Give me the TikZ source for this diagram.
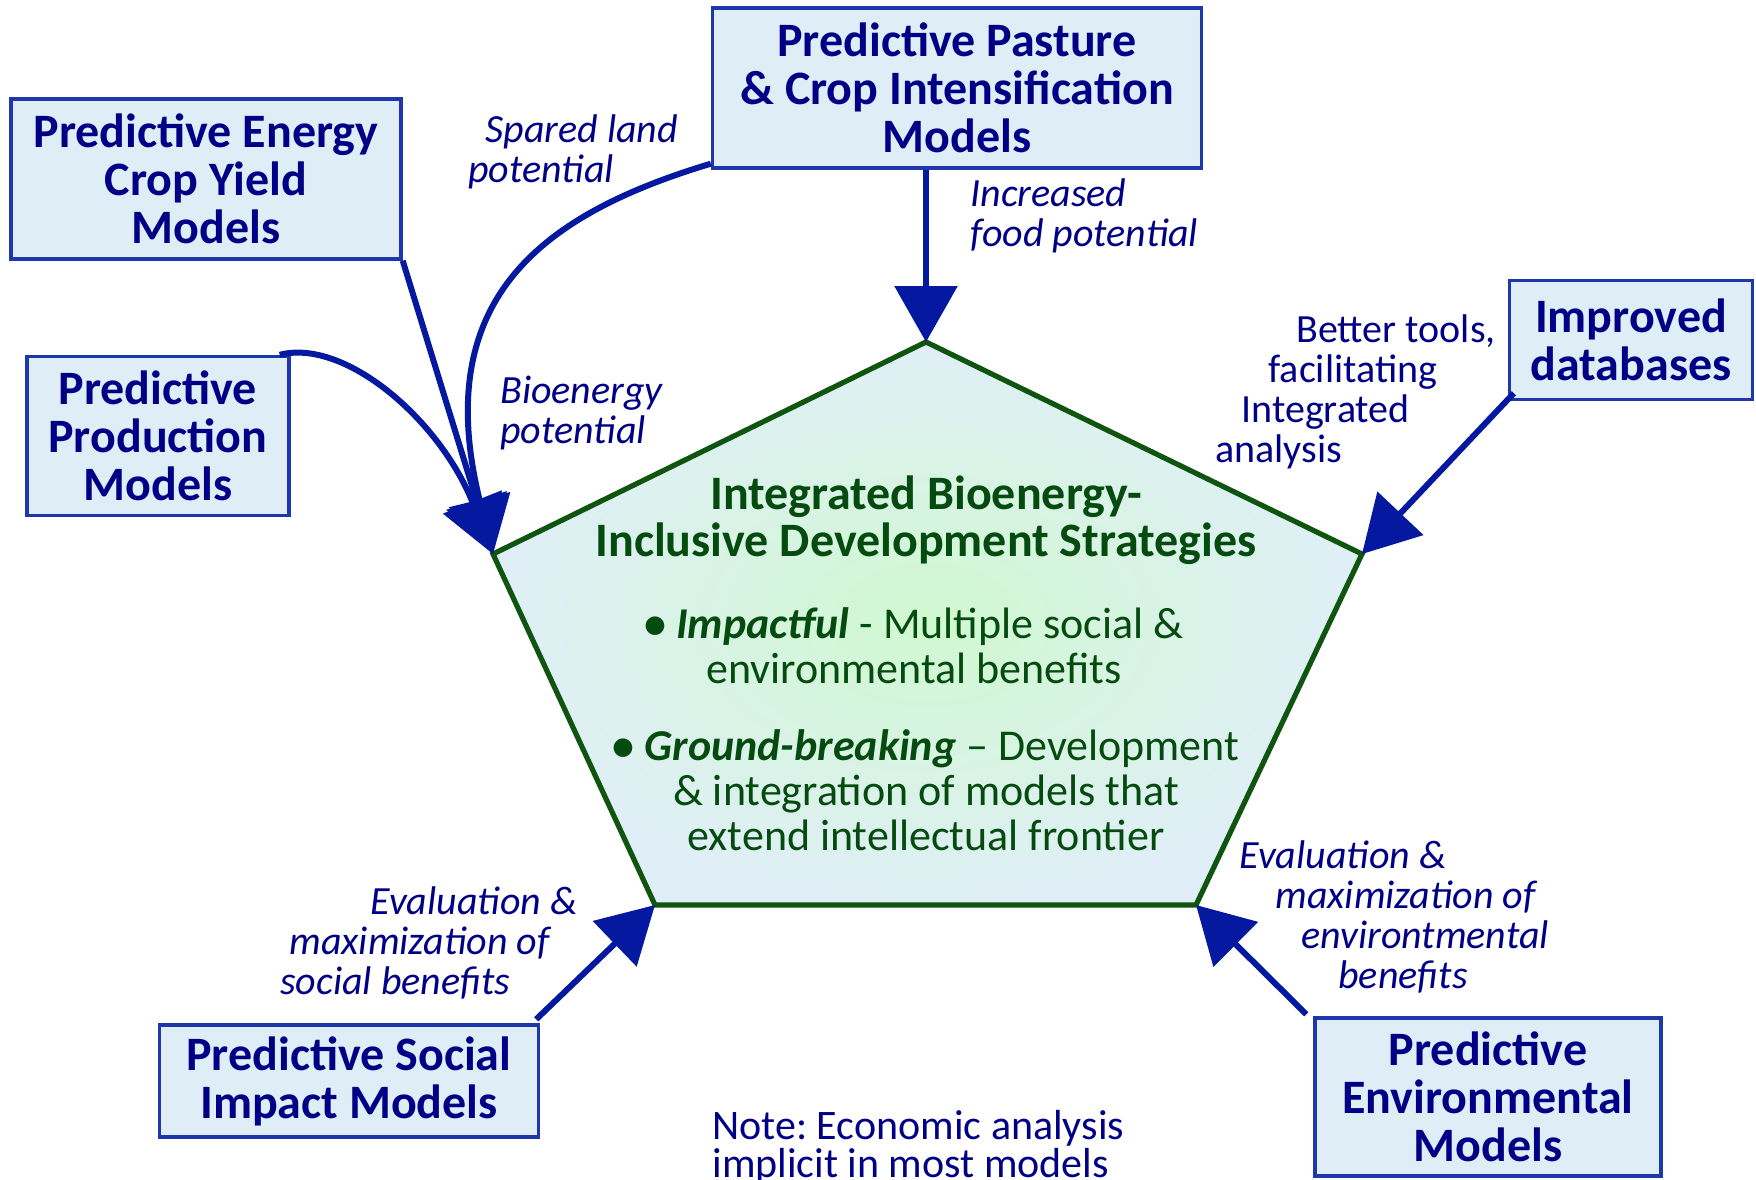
\documentclass[tikz,border=0pt]{standalone}
\usepackage{fontspec}
\setmainfont{Carlito}
\usetikzlibrary{arrows.meta,calc}
\frenchspacing
\definecolor{navytxt}{RGB}{0,0,135}
\definecolor{boxfill}{RGB}{223,238,246}
\definecolor{boxline}{RGB}{30,55,170}
\definecolor{arrowblue}{RGB}{5,25,160}
\definecolor{pentline}{RGB}{15,85,15}
\definecolor{titlegreen}{RGB}{5,75,15}
\definecolor{pentin}{RGB}{208,248,208}
\definecolor{pentout}{RGB}{224,239,247}
\begin{document}
\begin{tikzpicture}[x=0.5pt,y=-0.5pt,
 modelbox/.style={draw=boxline, line width=1.7pt, fill=boxfill, text=navytxt,
   font=\fontsize{24}{24}\selectfont\bfseries, align=center, inner sep=0pt},
 lbl/.style={text=navytxt, font=\fontsize{20}{20}\selectfont\itshape, align=left, inner sep=0pt},
 plainlbl/.style={text=navytxt, font=\fontsize{20}{20}\selectfont, align=left, inner sep=0pt},
 ptitle/.style={text=titlegreen, font=\fontsize{24}{23.5}\selectfont\bfseries, align=center, inner sep=0pt},
 pbody/.style={text=titlegreen, font=\fontsize{22}{22.5}\selectfont, align=center, inner sep=0pt},
 link/.style={draw=arrowblue, line width=3pt, -{Triangle[length=28pt,width=31pt]}},
]
\useasboundingbox (0,0) rectangle (1756,1179);

% pentagon
\coordinate (pT) at (926,342);
\coordinate (pR) at (1362,554);
\coordinate (pBR) at (1196,905);
\coordinate (pBL) at (655,905);
\coordinate (pL) at (493,554);
\shadedraw[inner color=pentin, outer color=pentout, draw=pentline, line width=2.6pt]
  (pT) -- (pR) -- (pBR) -- (pBL) -- (pL) -- cycle;

\node[ptitle] (title) at (926,520) {Integrated Bioenergy-\\Inclusive Development Strategies};
\node[pbody] (b1) at (914,646) {\textbf{\textbullet}\ \textbf{\textit{Impactful}} - Multiple social \&\\environmental benefits};
\node[pbody] (b2) at (926,790) {\textbf{\textbullet}\ \textbf{\textit{Ground-breaking}} – Development\\\& integration of models that\\extend intellectual frontier};

% boxes
\node[modelbox, minimum width=244.5pt, minimum height=80pt] (pasture) at (957,88)
  {Predictive Pasture\\\& Crop Intensification\\Models};
\node[modelbox, minimum width=195pt, minimum height=80pt] (energy) at (206,179)
  {Predictive Energy\\Crop Yield\\Models};
\node[modelbox, minimum width=131pt, minimum height=79.5pt] (prod) at (158,436)
  {Predictive\\Production\\Models};
\node[modelbox, minimum width=121.5pt, minimum height=59.5pt] (db) at (1631,340)
  {Improved\\databases};
\node[modelbox, minimum width=189.5pt, minimum height=56pt] (social) at (349,1081)
  {Predictive Social\\Impact Models};
\node[modelbox, minimum width=173pt, minimum height=79pt] (env) at (1488,1097)
  {Predictive\\Environmental\\Models};

% connectors
\coordinate (spStart) at ($(pasture.south west)+(0,-6)$);
\coordinate (prStart) at ($(prod.north east)+(-11,0)$);
\coordinate (dbStart) at ($(db.south west)+(6,-8)$);
\coordinate (soStart) at ($(social.north east)+(-4,-4)$);
\coordinate (enStart) at ($(env.north west)+(-7,-2)$);
\draw[link] (pasture.south -| pT) -- (pT);
\draw[link] (spStart) .. controls (540,215) and (430,300) .. (pL);
\draw[link] (energy.south east) -- (pL);
\draw[link] (prStart) .. controls (345,338) and (440,420) .. (pL);
\draw[link] (dbStart) -- (pR);
\draw[link] (soStart) -- (pBL);
\draw[link] (enStart) -- (pBR);

% labels
\node[lbl, anchor=west] (lspared) at (468,152) {\hspace*{8.5pt}Spared land\\potential};
\node[lbl, anchor=west] (lfood) at (970,216) {Increased\\food potential};
\node[lbl, anchor=west] (lbio) at (500,413) {Bioenergy\\potential};
\node[plainlbl, anchor=west] (ltools) at (1215,392)
  {\hspace*{40.5pt}Better tools,\\\hspace*{26.5pt}facilitating\\\hspace*{13pt}Integrated\\analysis};
\node[lbl, anchor=west] (lsoc) at (280,943)
  {\hspace*{45pt}Evaluation \&\\\hspace*{4.5pt}maximization of\\social benefits};
\node[lbl, anchor=west] (lenv) at (1239,917)
  {Evaluation \&\\\hspace*{18pt}maximization of\\\hspace*{31pt}environtmental\\\hspace*{49.5pt}benefits};
\node[plainlbl, font=\fontsize{21}{19}\selectfont, anchor=north west] (note) at (712,1110)
  {Note: Economic analysis\\implicit in most models};
\end{tikzpicture}
\end{document}
